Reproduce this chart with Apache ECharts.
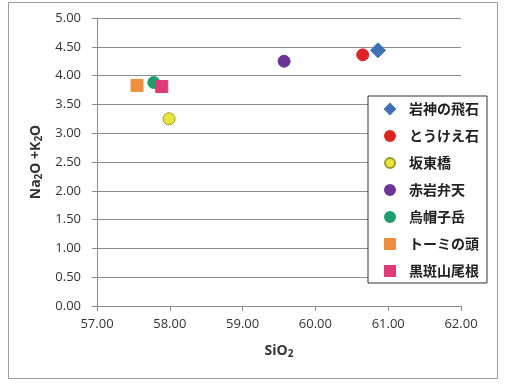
<!DOCTYPE html>
<html><head><meta charset="utf-8">
<script src="https://cdn.jsdelivr.net/npm/echarts@6/dist/echarts.min.js"></script>
<style>html,body{margin:0;padding:0;background:#fff}#c{width:506px;height:385px}</style>
</head><body><div id="c"></div>
<script>
const seriesNames = ['岩神の飛石','とうけえ石','坂東橋','赤岩弁天','烏帽子岳','トーミの頭','黒斑山尾根'];
const sio2 = [60.86, 60.65, 57.99, 59.57, 57.78, 57.55, 57.89];
const alkali = [4.44, 4.36, 3.25, 4.25, 3.88, 3.83, 3.81];
const colors = ['#3F6FB5','#DD2424','#E6E63C','#6B3598','#1E9E6E','#EE8E3E','#DE3A78'];
const borders = ['#3F6FB5','#DD2424','#9A9A30','#6B3598','#1E9E6E','#EE8E3E','#DE3A78'];
const symbols = ['diamond','circle','circle','circle','circle','rect','rect'];
const sizes = [15, 12, 12, 12, 12, 12, 12];
const xTicks = [57, 58, 59, 60, 61, 62];
const yTicks = [0, 0.5, 1, 1.5, 2, 2.5, 3, 3.5, 4, 4.5, 5];

const chart = echarts.init(document.getElementById('c'), null, {renderer:'canvas'});
const font = '"Open Sans", "Liberation Sans", sans-serif';
const cjk = '"Noto Sans CJK JP", sans-serif';
chart.setOption({
  animation: false,
  graphic: [{type:'rect', shape:{x:8.5,y:2.5,width:489,height:376}, style:{fill:'none', stroke:'#9a9a9a', lineWidth:1}, z:-1}],
  grid: {left: 97, top: 18, right: 45, bottom: 79},
  xAxis: {
    type:'value', min: xTicks[0], max: xTicks[xTicks.length-1], interval: 1,
    name: '{a|SiO}{s|2}', nameLocation:'middle', nameGap: 37,
    nameTextStyle: {rich:{a:{fontFamily:font, fontWeight:'bold', fontSize:14, color:'#333'}, s:{fontFamily:font, fontWeight:'bold', fontSize:10, color:'#333', padding:[6,0,0,0]}}},
    axisLine:{show:true, lineStyle:{color:'#8c8c8c', width:1}},
    axisTick:{show:true, inside:false, length:5, lineStyle:{color:'#8c8c8c'}},
    splitLine:{show:false},
    axisLabel:{formatter: v => v.toFixed(2), fontFamily:font, fontSize:13, color:'#333', margin:12}
  },
  yAxis: {
    type:'value', min: yTicks[0], max: yTicks[yTicks.length-1], interval: 0.5,
    name: '{a|Na}{s|2}{a|O +K}{s|2}{a|O}', nameLocation:'middle', nameGap: 52, nameRotate: 90,
    nameTextStyle: {rich:{a:{fontFamily:font, fontWeight:'bold', fontSize:14, color:'#333'}, s:{fontFamily:font, fontWeight:'bold', fontSize:10, color:'#333', padding:[6,0,0,0]}}},
    axisLine:{show:true, lineStyle:{color:'#8c8c8c', width:1}},
    axisTick:{show:true, inside:false, length:5, lineStyle:{color:'#8c8c8c'}},
    splitLine:{show:true, lineStyle:{color:'#8c8c8c', width:1}},
    axisLabel:{formatter: v => v.toFixed(2), fontFamily:font, fontSize:13, color:'#333', margin:16}
  },
  legend: {
    orient:'vertical', left: 368, top: 96,
    backgroundColor:'#fff', borderColor:'#333', borderWidth:1,
    padding:[4, 8, 3, 16], itemGap: 9, itemWidth: 10, itemHeight: 10,
    textStyle:{fontFamily:cjk, fontWeight:'bold', fontSize:14, color:'#222', lineHeight:18, padding:[0,0,0,9]},
    data: seriesNames
  },
  series: seriesNames.map((n, i) => ({
    name: n, type:'scatter', symbol: symbols[i], symbolSize: sizes[i],
    itemStyle:{color: colors[i], borderColor: borders[i], borderWidth: 1, opacity:1},
    data: [[sio2[i], alkali[i]]]
  }))
});
</script></body></html>
